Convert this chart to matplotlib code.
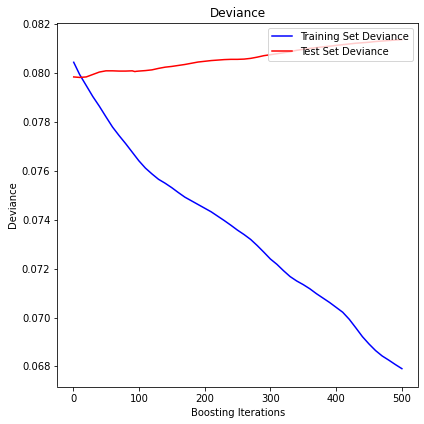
import matplotlib
matplotlib.use("Agg")
import matplotlib.pyplot as plt
import numpy as np

iters = [1] + list(range(10, 501, 10))
train_dev = [0.08045, 0.07995, 0.07950, 0.07905, 0.07865, 0.07822, 0.07780, 0.07745,
             0.07712, 0.07677, 0.07642, 0.07612, 0.07588, 0.07566, 0.07550, 0.07532,
             0.07512, 0.07493, 0.07478, 0.07463, 0.07448, 0.07433, 0.07415, 0.07397,
             0.07378, 0.07358, 0.07340, 0.07320, 0.07295, 0.07268, 0.07240, 0.07218,
             0.07192, 0.07168, 0.07150, 0.07135, 0.07118, 0.07098, 0.07080, 0.07062,
             0.07042, 0.07022, 0.06993, 0.06958, 0.06922, 0.06892, 0.06865, 0.06843,
             0.06826, 0.06808, 0.06791]

test_iters = [1, 10, 20, 30, 40, 50, 60, 70, 80, 90, 94, 96, 100, 110, 120, 130, 140,
              150, 160, 170, 180, 190, 200, 210, 220, 230, 240, 250, 260, 270, 280,
              290, 300, 310, 320, 330, 340, 350, 360, 370, 380, 390, 400, 410, 420,
              430, 440, 450, 460, 470, 480, 490, 500]
test_dev = [0.07985, 0.07983, 0.07985, 0.07995, 0.08005, 0.08010, 0.08010, 0.08009,
            0.08009, 0.08010, 0.08007, 0.08008, 0.08009, 0.08011, 0.08014, 0.08020,
            0.08025, 0.08028, 0.08032, 0.08036, 0.08041, 0.08046, 0.08049, 0.08052,
            0.08054, 0.08056, 0.08057, 0.08057, 0.08058, 0.08061, 0.08066, 0.08072,
            0.08076, 0.08080, 0.08084, 0.08088, 0.08094, 0.08098, 0.08102, 0.08105,
            0.08108, 0.08111, 0.08114, 0.08117, 0.08120, 0.08123, 0.08125, 0.08127,
            0.08130, 0.08132, 0.08134, 0.08136, 0.08138]

fig = plt.figure(figsize=(424/72, 424/72), dpi=72)
ax = fig.add_axes([57.3/424, (424-386.5)/424, (418.3-57.3)/424, (386.5-22.7)/424])
ax.plot(iters, train_dev, "b-", label="Training Set Deviance")
ax.plot(test_iters, test_dev, "r-", label="Test Set Deviance")
ax.set_title("Deviance")
ax.legend(loc="upper right")
ax.set_xlabel("Boosting Iterations")
ax.set_ylabel("Deviance")
ax.set_xlim(-23.95, 524.95)
ax.set_yticks([0.068, 0.070, 0.072, 0.074, 0.076, 0.078, 0.080, 0.082])
ax.set_ylim(0.06718, 0.08207)
fig.savefig("out.png", dpi=72)
